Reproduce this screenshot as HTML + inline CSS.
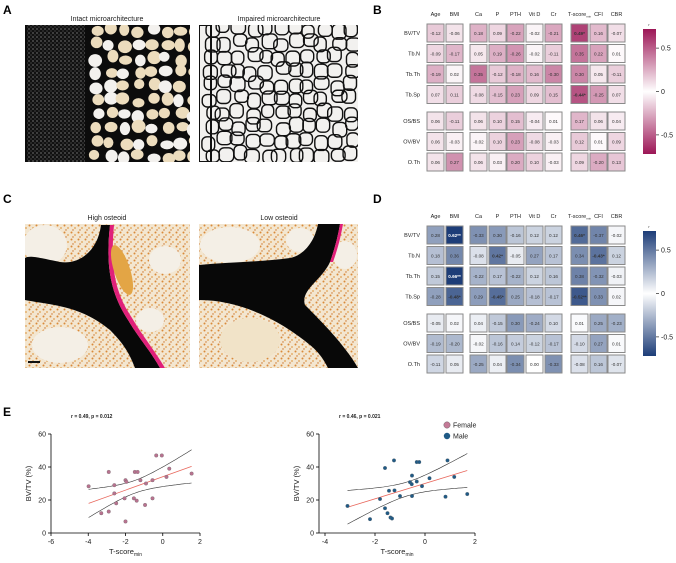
<!DOCTYPE html>
<html><head><meta charset="utf-8"><style>
html,body{margin:0;padding:0;background:#fff;}
svg{display:block;font-family:"Liberation Sans",sans-serif;}
</style></head><body>
<svg id="fig" width="676" height="563" viewBox="0 0 676 563" xmlns="http://www.w3.org/2000/svg">
<defs>
<pattern id="speck" width="7" height="7" patternUnits="userSpaceOnUse">
<rect width="7" height="7" fill="#f3e6d0"/>
<circle cx="1.5" cy="1.5" r="1" fill="#d98a3a"/><circle cx="5" cy="4" r="0.9" fill="#e0a050"/><circle cx="3" cy="6" r="0.7" fill="#c9702a"/>
</pattern>
<pattern id="dense" width="4" height="4" patternUnits="userSpaceOnUse">
<rect width="4" height="4" fill="#111"/><circle cx="1" cy="1" r="0.5" fill="#fff"/><circle cx="3" cy="3" r="0.4" fill="#ddd"/>
</pattern>
<clipPath id="cA1"><rect x="25" y="25" width="165" height="137"/></clipPath>
<clipPath id="cA2"><rect x="199" y="25" width="159" height="137"/></clipPath>
<clipPath id="cC1"><rect x="25" y="224" width="165" height="144"/></clipPath>
<clipPath id="cC2"><rect x="199" y="224" width="159" height="144"/></clipPath>
<linearGradient id="gB" x1="0" y1="0" x2="0" y2="1"><stop offset="0" stop-color="#9c1656"/><stop offset="0.5" stop-color="#ffffff"/><stop offset="1" stop-color="#9c1656"/></linearGradient>
<linearGradient id="gD" x1="0" y1="0" x2="0" y2="1"><stop offset="0" stop-color="#1d3d78"/><stop offset="0.5" stop-color="#ffffff"/><stop offset="1" stop-color="#1d3d78"/></linearGradient>
</defs>

<text x="3" y="14" font-size="12" font-weight="bold">A</text>
<text x="3" y="203" font-size="12" font-weight="bold">C</text>
<text x="373" y="14" font-size="12" font-weight="bold">B</text>
<text x="373" y="203" font-size="12" font-weight="bold">D</text>
<text x="3" y="416" font-size="12" font-weight="bold">E</text>

<text x="107" y="21" font-size="7" text-anchor="middle" fill="#222">Intact microarchitecture</text>
<text x="279" y="21" font-size="7" text-anchor="middle" fill="#222">Impaired microarchitecture</text>
<text x="107" y="220" font-size="7" text-anchor="middle" fill="#222">High osteoid</text>
<text x="279" y="220" font-size="7" text-anchor="middle" fill="#222">Low osteoid</text>

<g id="imgA1" clip-path="url(#cA1)"></g>
<g id="imgA2" clip-path="url(#cA2)"></g>

<g clip-path="url(#cC1)">
<rect x="25" y="224" width="165" height="144" fill="url(#speck)"/>
<ellipse cx="45" cy="245" rx="22" ry="20" fill="#f4efe6"/>
<ellipse cx="60" cy="345" rx="28" ry="18" fill="#f4efe6"/>
<ellipse cx="165" cy="260" rx="16" ry="14" fill="#f4efe6"/>
<ellipse cx="150" cy="320" rx="14" ry="12" fill="#f4efe6"/>
<path d="M101,225 C98,250 80,265 60,262 C40,258 30,255 25,258 L25,300 C50,305 80,305 110,330 C125,345 130,355 135,368 L160,368 C150,350 140,340 128,320 C112,295 105,270 110,225 Z" fill="#080808"/>
<path d="M110,225 C105,270 112,295 128,320 C140,340 150,350 160,368 L165,368 C153,348 144,338 132,318 C116,294 110,270 114,225 Z" fill="#e0207a"/>
<ellipse cx="122" cy="270" rx="8" ry="26" fill="#e3a545" transform="rotate(-18 122 270)"/>
<rect x="28" y="361" width="12" height="2" fill="#111"/>
</g>
<g clip-path="url(#cC2)">
<rect x="199" y="224" width="159" height="144" fill="url(#speck)"/>
<ellipse cx="230" cy="245" rx="30" ry="18" fill="#f4efe6"/>
<ellipse cx="300" cy="240" rx="14" ry="12" fill="#f4efe6"/>
<ellipse cx="250" cy="340" rx="30" ry="22" fill="#f1e3c8"/>
<ellipse cx="345" cy="255" rx="12" ry="14" fill="#f4efe6"/>
<path d="M318,224 C315,240 305,255 290,258 C260,262 230,262 199,265 L199,300 C240,300 280,320 310,345 C320,353 325,362 328,368 L358,368 C345,345 320,320 305,305 C300,290 322,280 330,262 C336,245 338,235 340,224 Z" fill="#080808"/>
<path d="M340,224 C338,235 336,245 330,262 L333,262 C339,245 341,235 343,224 Z" fill="#e0207a"/>
</g>

<g id="heatB"></g>
<g id="heatD"></g>
<g id="scatterL"></g>
<g id="scatterR"></g>
</svg>
<script>
const NS='http://www.w3.org/2000/svg';
const heatCols=['Age','BMI','Ca','P','PTH','Vit D','Cr','T-score','CFI','CBR'];
const heatRows=['BV/TV','Tb.N','Tb.Th','Tb.Sp','OS/BS','OV/BV','O.Th'];
const valuesB=[
[-0.12,-0.06,0.18,0.09,-0.22,-0.02,-0.21,0.49,0.16,-0.07],
[-0.09,-0.17,0.05,0.19,-0.26,-0.02,-0.11,0.35,0.22,0.01],
[-0.19,0.02,0.35,-0.12,-0.18,0.16,-0.30,0.30,0.05,-0.11],
[0.07,0.11,-0.08,-0.15,0.23,0.09,0.15,-0.44,-0.25,0.07],
[0.06,-0.11,0.06,0.10,0.15,-0.04,0.01,0.17,0.06,0.04],
[0.06,-0.03,-0.02,0.10,0.23,-0.08,-0.03,0.12,0.01,0.09],
[0.06,0.27,0.06,0.03,0.20,0.10,-0.03,0.09,-0.20,0.13]];
const starsB=[[0,7,'*'],[3,7,'*']];
const valuesD=[
[0.28,0.62,-0.33,0.30,-0.16,0.12,0.12,0.46,-0.37,-0.02],
[0.18,0.36,-0.08,0.42,-0.05,0.27,0.17,0.34,-0.43,0.12],
[0.15,0.66,-0.22,0.17,-0.22,0.12,0.16,0.38,-0.32,-0.03],
[-0.28,-0.48,0.29,-0.45,0.25,-0.18,-0.17,-0.52,0.33,0.02],
[-0.05,0.02,0.04,-0.15,0.30,-0.24,0.10,0.01,0.25,-0.23],
[-0.19,-0.20,-0.02,-0.16,0.14,-0.12,-0.17,-0.10,0.27,0.01],
[-0.11,0.05,-0.25,0.04,-0.34,0.00,-0.33,-0.08,0.16,-0.07]];
const starsD=[[0,1,'**'],[0,7,'*'],[1,3,'*'],[1,8,'*'],[2,1,'**'],[3,1,'*'],[3,3,'*'],[3,7,'**']];
const colorbarTicks=[0.5,0,-0.5];

function el(tag,attrs,parent,text){const e=document.createElementNS(NS,tag);for(const k in attrs)e.setAttribute(k,attrs[k]);if(text!==undefined)e.textContent=text;parent.appendChild(e);return e;}

function drawHeat(gid,vals,stars,y0,rgb,grad){
  const g=document.getElementById(gid);
  const colX=[427,446,470,489,507,526,545,571,590,608];
  const rowY=[y0,y0+20.5,y0+41,y0+61.5,y0+88,y0+108.5,y0+129];
  const cw=17,ch=18;
  heatCols.forEach((c,i)=>{
    const t=el('text',{x:colX[i]+cw/2,y:y0-8,'font-size':5.5,'text-anchor':'middle',fill:'#222'},g,c);
    
    
    if(c==='T-score'){el('tspan',{'font-size':3,dy:1.5},t,'min');}
  });
  heatRows.forEach((r,j)=>{
    const t=el('text',{x:420,y:rowY[j]+ch/2+2,'font-size':5.5,'text-anchor':'end',fill:'#222'},g,r);
    
    
    vals[j].forEach((v,i)=>{
      const a=Math.min(1,Math.pow(Math.abs(v)/0.62,0.9));
      const R=Math.round(255+(rgb[0]-255)*a),G=Math.round(255+(rgb[1]-255)*a),B=Math.round(255+(rgb[2]-255)*a);
      const rc=el('rect',{x:colX[i],y:rowY[j],width:cw,height:ch,fill:`rgb(${R},${G},${B})`,stroke:'#8a8a8a','stroke-width':1},g);
      
      
      const st=stars.find(s=>s[0]===j&&s[1]===i);
      const tx=el('text',{x:colX[i]+cw/2,y:rowY[j]+ch/2+1.8,'font-size':4.6,'text-anchor':'middle',fill:a>0.9?'#fff':'#333','font-weight':st?'bold':'normal'},g,v.toFixed(2)+(st?st[2]:''));
      
      
    });
  });
  const cbTop=y0+5,cbH=125;
  const cb=el('rect',{x:643,y:cbTop,width:13,height:cbH,fill:`url(#${grad})`},g);
  
  
  el('text',{x:649,y:cbTop-3,'font-size':4,'text-anchor':'middle',fill:'#333'},g,'r');
  const cy=v=>cbTop+cbH/2-v/0.72*(cbH/2);
  colorbarTicks.forEach(v=>{
    el('line',{x1:656,x2:659,y1:cy(v),y2:cy(v),stroke:'#000','stroke-width':0.6},g);
    const t=el('text',{x:661,y:cy(v)+2.5,'font-size':7,fill:'#222'},g,v===0?'0':String(v));
    
    
  });
}
drawHeat('heatB',valuesB,starsB,24,[156,22,86],'gB');
drawHeat('heatD',valuesD,starsD,226,[29,61,120],'gD');

const femaleT=[-3.98,-3.3,-2.9,-2.9,-2.6,-2.6,-2.5,-2.0,-1.95,-2.0,-2.05,-1.5,-1.35,-1.55,-1.4,-1.2,-0.9,-0.95,-0.55,-0.55,-0.35,-0.05,0.2,0.35,1.55];
const femaleBV=[28.3,12,37,13,29,24,18,32,31,7,21,37,37,21,19.6,32,30,17,32,21,47,47,34,39,36];
const maleT=[-3.1,-2.2,-1.8,-1.6,-1.6,-1.5,-1.44,-1.38,-1.32,-1.24,-1.22,-1.0,-0.6,-0.52,-0.53,-0.52,-0.33,-0.33,-0.23,-0.12,0.18,0.82,0.9,1.17,1.69];
const maleBV=[16.4,8.4,20.6,39.4,15,12,25.6,9.4,8.8,44,25.8,22.4,30.8,34.8,29.6,22.4,31.2,43,43,28.4,33.2,22,44,34,23.6];
const xTicksL=[-6,-4,-2,0,2];
const xTicksR=[-4,-2,0,2];
const yTicks=[0,20,40,60];

function drawScatter(gid,xs,ys,xmin,xmax,x0,x1,axisX,ticks,color,stat,axLabelX){
  const g=document.getElementById(gid);
  const X=v=>x0+(v-xmin)/(xmax-xmin)*(x1-x0);
  const Y=v=>533-v/60*99;
  el('line',{x1:axisX,x2:axisX,y1:Y(60),y2:Y(0),stroke:'#000','stroke-width':0.8},g);
  el('line',{x1:axisX,x2:x1,y1:Y(0),y2:Y(0),stroke:'#000','stroke-width':0.8},g);
  yTicks.forEach(v=>{
    el('line',{x1:axisX-3,x2:axisX,y1:Y(v),y2:Y(v),stroke:'#000','stroke-width':0.8},g);
    const t=el('text',{x:axisX-5,y:Y(v)+2.5,'font-size':7,'text-anchor':'end',fill:'#222'},g,String(v));
    
    
  });
  ticks.forEach(v=>{
    el('line',{x1:X(v),x2:X(v),y1:Y(0),y2:Y(0)+3,stroke:'#000','stroke-width':0.8},g);
    const t=el('text',{x:X(v),y:Y(0)+11,'font-size':7,'text-anchor':'middle',fill:'#222'},g,String(v));
    
    
  });
  const yl=el('text',{x:axLabelX,y:Y(30),'font-size':7.5,'text-anchor':'middle',fill:'#222',transform:`rotate(-90 ${axLabelX} ${Y(30)})`},g,'BV/TV (%)');
  
  
  const xl=el('text',{x:(axisX+x1)/2,y:554,'font-size':7.5,'text-anchor':'middle',fill:'#222'},g,'T-score');
  
  
  el('tspan',{'font-size':5,dy:2},xl,'min');
  const st=el('text',{x:axisX+20,y:418,'font-size':5,'font-weight':'bold',fill:'#222'},g,stat);
  
  
  const n=xs.length,mx=xs.reduce((a,b)=>a+b)/n,my=ys.reduce((a,b)=>a+b)/n;
  let sxx=0,sxy=0;xs.forEach((x,i)=>{sxx+=(x-mx)**2;sxy+=(x-mx)*(ys[i]-my);});
  const b=sxy/sxx,a=my-b*mx;
  let sse=0;xs.forEach((x,i)=>{sse+=(ys[i]-a-b*x)**2;});
  const s=Math.sqrt(sse/(n-2));
  const lo=Math.min(...xs),hi=Math.max(...xs);
  let up='',dn='';
  for(let k=0;k<=40;k++){const x=lo+(hi-lo)*k/40,yh=a+b*x,se=2.07*s*Math.sqrt(1/n+(x-mx)**2/sxx);
    up+=(k?'L':'M')+X(x).toFixed(1)+','+Y(yh+se).toFixed(1);dn+=(k?'L':'M')+X(x).toFixed(1)+','+Y(yh-se).toFixed(1);}
  const p1=el('path',{d:up,fill:'none',stroke:'#333','stroke-width':0.6},g);
  
  
  const p2=el('path',{d:dn,fill:'none',stroke:'#333','stroke-width':0.6},g);
  
  
  const rl=el('line',{x1:X(lo),y1:Y(a+b*lo),x2:X(hi),y2:Y(a+b*hi),stroke:'#e8675c','stroke-width':0.8},g);
  
  
  xs.forEach((x,i)=>{
    const c=el('circle',{cx:X(x),cy:Y(ys[i]),r:1.8,fill:color,stroke:'#666','stroke-width':0.3},g);
    
    
  });
}
drawScatter('scatterL',femaleT,femaleBV,-6,2,51,200,51,xTicksL,'#b8728f','r = 0.49, p = 0.012',31);
drawScatter('scatterR',maleT,maleBV,-4,2,325,475,319,xTicksR,'#1f5a86','r = 0.46, p = 0.021',299);
const lg=document.getElementById('scatterR');
const l1=el('circle',{cx:447,cy:425,r:3.2,fill:'#c47a97',stroke:'#555','stroke-width':0.4},lg);


const t1=el('text',{x:453,y:427.5,'font-size':7,fill:'#222'},lg,'Female');


const l2=el('circle',{cx:447,cy:436,r:3.2,fill:'#1f5a86'},lg);


const t2=el('text',{x:453,y:438.5,'font-size':7,fill:'#222'},lg,'Male');



function rnd(i){const v=Math.sin(i*12.9898+78.233)*43758.5453;return v-Math.floor(v);}
(function(){
  const g=document.getElementById('imgA1');
  el('rect',{x:25,y:25,width:165,height:137,fill:'#0c0c0c'},g);
  el('rect',{x:27,y:25,width:58,height:137,fill:'url(#dense)'},g);
  let k=0;
  for(let y=30;y<165;y+=14){for(let x=96;x<195;x+=14){k++;
    const cx=x+rnd(k)*5-2,cy=y+rnd(k+99)*5-2;
    el('ellipse',{cx:cx,cy:cy,rx:5+rnd(k+7)*2,ry:4.5+rnd(k+3)*2.2,fill:rnd(k+5)>0.4?'#ecdcbd':'#f3f1ee'},g);}}
  const g2=document.getElementById('imgA2');
  el('rect',{x:199,y:25,width:159,height:137,fill:'#f2f1ef'},g2);
  k=500;
  const pts=[];
  for(let y=28;y<165;y+=14){for(let x=210;x<362;x+=14){k++;pts.push([x+rnd(k)*6-3,y+rnd(k+50)*6-3]);}}
  pts.forEach((p,i)=>{el('rect',{x:p[0]-6,y:p[1]-6,width:12+rnd(i+3)*3,height:12+rnd(i+9)*3,rx:5,fill:'none',stroke:'#111','stroke-width':1.4},g2);});
  el('rect',{x:199,y:25,width:12,height:137,fill:'none',stroke:'#111','stroke-width':2},g2);
})();
</script>
</body></html>
